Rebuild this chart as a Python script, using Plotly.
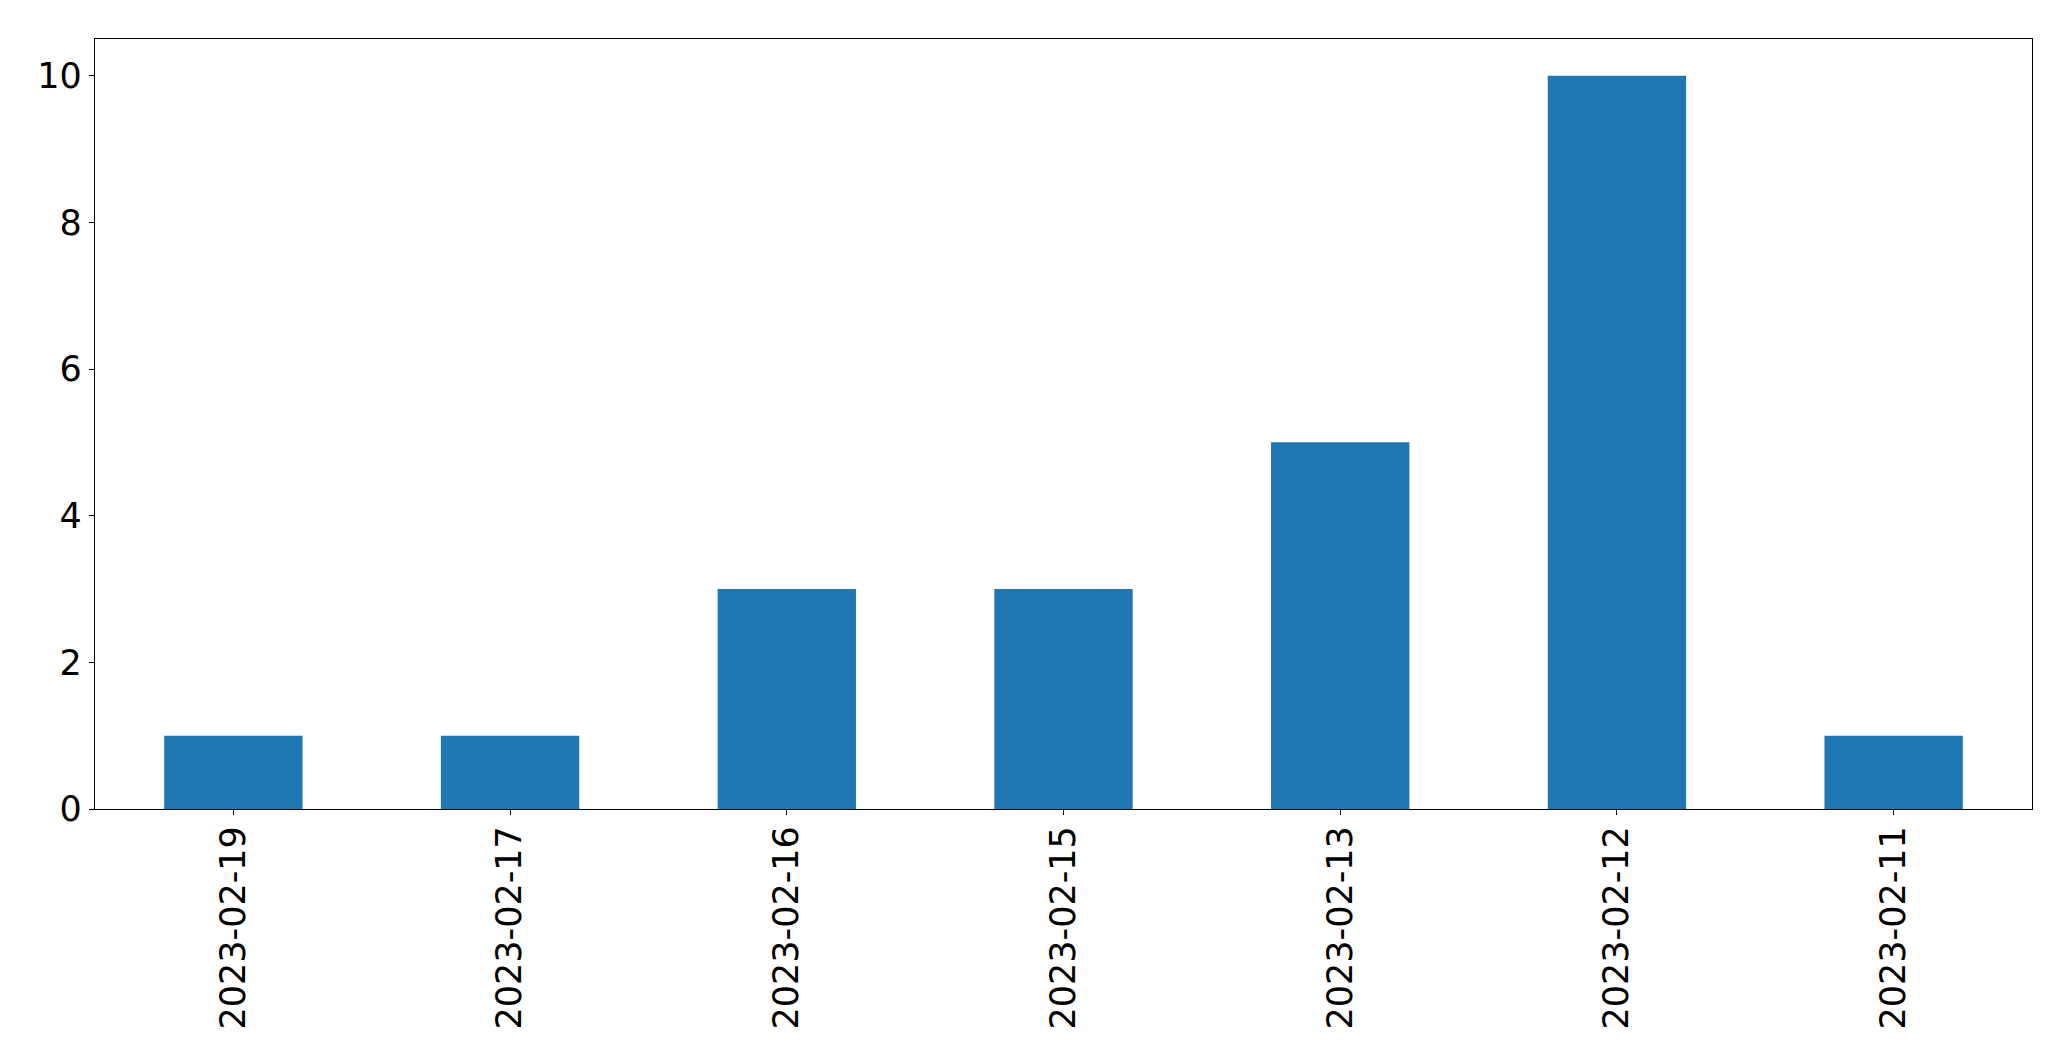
import plotly.graph_objects as go

dates = ["2023-02-19", "2023-02-17", "2023-02-16", "2023-02-15", "2023-02-13", "2023-02-12", "2023-02-11"]
counts = [1, 1, 3, 3, 5, 10, 1]
y_ticks = [0, 2, 4, 6, 8, 10]

fig = go.Figure(go.Bar(x=dates, y=counts, marker=dict(color="#1f77b4", line=dict(width=0))))

font = dict(family="DejaVu Sans", size=35, color="black")
fig.update_layout(
    width=2055, height=1045,
    margin=dict(l=87, r=31, t=31, b=244),
    plot_bgcolor="white", paper_bgcolor="white",
    bargap=0.5, showlegend=False, font=font,
)
fig.update_xaxes(
    type="category", range=[-0.5, 6.5], tickangle=-90,
    showline=True, linecolor="black", linewidth=1.3, mirror=True,
    ticks="outside", ticklen=5, tickcolor="black", showgrid=False, tickfont=font,
    ticklabelstandoff=-3,
)
fig.update_yaxes(
    range=[0, 10.5], tickvals=y_ticks,
    showline=True, linecolor="black", linewidth=1.3, mirror=True,
    ticks="outside", ticklen=5, tickcolor="black", showgrid=False, zeroline=False, tickfont=font,
)
fig.write_html("out.html")
